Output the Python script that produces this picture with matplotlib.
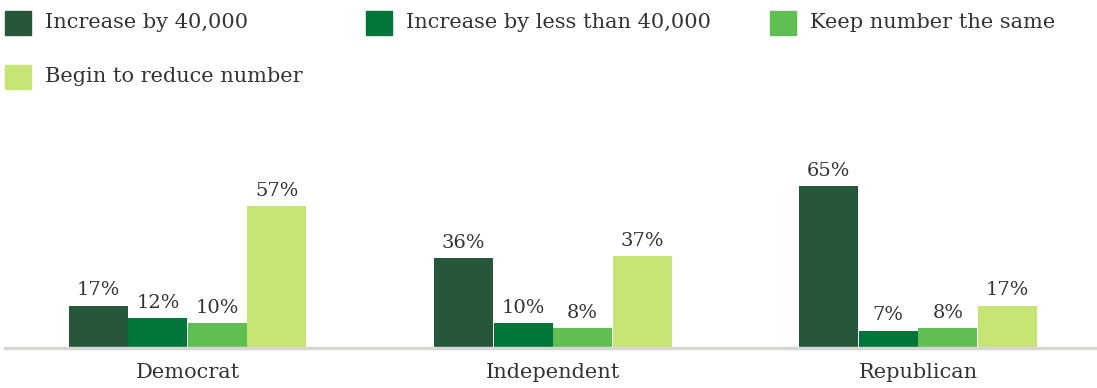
import matplotlib.pyplot as plt
import numpy as np
from matplotlib.patches import Rectangle

plt.rcParams['font.family'] = ['DejaVu Serif']

groups = ['Democrat', 'Independent', 'Republican']
series = ['Increase by 40,000', 'Increase by less than 40,000',
          'Keep number the same', 'Begin to reduce number']
increase_40k = [17, 36, 65]
increase_less = [12, 10, 7]
keep_same = [10, 8, 8]
reduce_num = [57, 37, 17]
values = [increase_40k, increase_less, keep_same, reduce_num]
colors = ['#27573a', '#00763a', '#5fbf52', '#c6e574']

W, H = 1097, 388
fig = plt.figure(figsize=(W / 100, H / 100), dpi=100)
# axes spans px x 5..1097, baseline at y=348
ax = fig.add_axes([5 / W, (H - 348) / H, 1 - 5 / W, (348 - 100) / H])
ax.set_xlim(-0.5, 2.49)
ax.set_ylim(0, (348 - 100) / 2.49)

x = np.arange(len(groups))
w = 0.163
for i, (vals, c) in enumerate(zip(values, colors)):
    pos = x + (i - 1.5) * w
    bars = ax.bar(pos, vals, width=w * 0.99, color=c, edgecolor='none')
    for b, v in zip(bars, vals):
        ax.text(b.get_x() + b.get_width() / 2, v + 2.5, f'{v}%',
                ha='center', va='bottom', fontsize=14, color='#333333')

for s in ['top', 'right', 'left']:
    ax.spines[s].set_visible(False)
ax.spines['bottom'].set_color('#d6d6d2')
ax.spines['bottom'].set_linewidth(2.5)
ax.set_yticks([])
ax.set_xticks(x)
ax.set_xticklabels(groups, fontsize=15, color='#333333')
ax.tick_params(axis='x', length=0, pad=11)

# legend, laid out like the original in pixel positions
leg_pos = [(5, 23), (366, 23), (770, 23), (5, 77)]
for (lx, ly), lab, c in zip(leg_pos, series, colors):
    fig.add_artist(Rectangle((lx / W, (H - ly - 12) / H), 26 / W, 24 / H,
                             transform=fig.transFigure, color=c))
    fig.text((lx + 40) / W, (H - ly) / H, lab, ha='left', va='center',
             fontsize=15, color='#333333')

fig.savefig('out.png', dpi=100)
